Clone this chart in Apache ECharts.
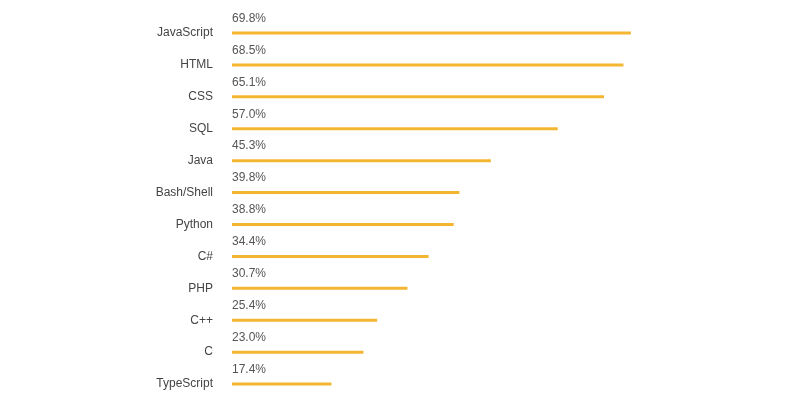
<!DOCTYPE html><html><head><meta charset="utf-8"><script src="https://cdn.jsdelivr.net/npm/echarts@6/dist/echarts.min.js"></script></head><body style="margin:0"><div id="c" style="width:800px;height:400px"></div><script>
const categories=["JavaScript","HTML","CSS","SQL","Java","Bash/Shell","Python","C#","PHP","C++","C","TypeScript"];
const values=[69.8,68.5,65.1,57.0,45.3,39.8,38.8,34.4,30.7,25.4,23.0,17.4];
const c=echarts.init(document.getElementById('c'));
c.setOption({animation:false,grid:{left:232,top:17,width:400,height:393},
xAxis:{type:'value',min:0,max:70,show:false},
yAxis:{type:'category',data:categories,inverse:true,axisLine:{show:false},axisTick:{show:false},
axisLabel:{color:'#444',fontSize:12,fontFamily:'Arial, Liberation Sans',margin:19,padding:[0,0,22,0]}},
series:[{type:'bar',data:values,barWidth:3,itemStyle:{color:'#f4b630'},
label:{show:true,position:[0,-19],color:'#555',fontSize:12,fontFamily:'Arial, Liberation Sans',formatter:p=>p.value.toFixed(1)+'%'}}]});
</script></body></html>
